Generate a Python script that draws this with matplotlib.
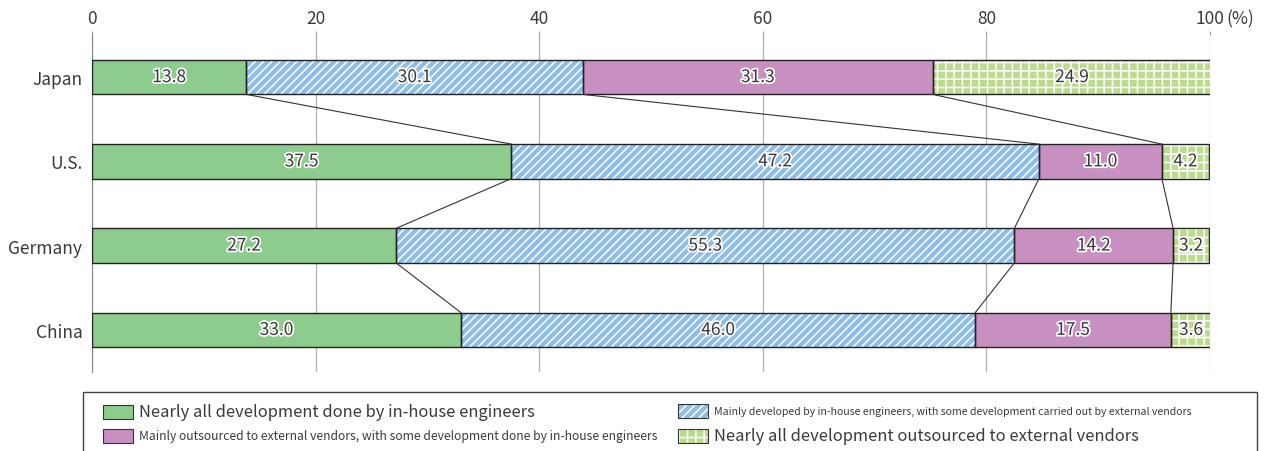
import matplotlib
matplotlib.use("Agg")
import matplotlib.pyplot as plt
import matplotlib.patheffects as pe
from matplotlib.patches import Rectangle
import numpy as np

plt.rcParams['font.family'] = ['Noto Sans CJK JP', 'DejaVu Sans']
plt.rcParams['hatch.linewidth'] = 1.1

countries = ["Japan", "U.S.", "Germany", "China"]
in_house_all = [13.8, 37.5, 27.2, 33.0]
mainly_in_house = [30.1, 47.2, 55.3, 46.0]
mainly_outsourced = [31.3, 11.0, 14.2, 17.5]
all_outsourced = [24.9, 4.2, 3.2, 3.6]
x_ticks = [0, 20, 40, 60, 80, 100]

series_labels = [
    "Nearly all development done by in-house engineers",
    "Mainly developed by in-house engineers, with some development carried out by external vendors",
    "Mainly outsourced to external vendors, with some development done by in-house engineers",
    "Nearly all development outsourced to external vendors",
]
colors = ["#8dcc8c", "#8ebde8", "#c890c1", "#bcdb8e"]
hatches = [None, "////", None, "++"]

W, H = 1266, 452
fig = plt.figure(figsize=(W / 100, H / 100), dpi=100)
ax = fig.add_axes([92 / W, 1 - 373 / H, (1210 - 92) / W, (373 - 36) / H])

series = [in_house_all, mainly_in_house, mainly_outsourced, all_outsourced]
y = np.arange(len(countries))
bh = 0.41
left = np.zeros(len(countries))
bounds = []
for vals, col, hat in zip(series, colors, hatches):
    vals = np.array(vals)
    ax.barh(y, vals, left=left, height=bh, color=col, hatch=hat,
            edgecolor="white", linewidth=0, zorder=2)
    ax.barh(y, vals, left=left, height=bh, color="none",
            edgecolor="#222222", linewidth=1.0, zorder=3)
    for yi, l, v in zip(y, left, vals):
        ax.text(l + v / 2, yi, f"{v:.1f}", ha="center", va="center",
                fontsize=12.5, color="#383838", zorder=5,
                path_effects=[pe.withStroke(linewidth=2.5, foreground="white")])
    left = left + vals
    bounds.append(left.copy())

# connector lines
for b in bounds[:3]:
    for i in range(len(countries) - 1):
        ax.plot([b[i], b[i + 1]], [y[i] + bh / 2, y[i + 1] - bh / 2],
                color="#333333", linewidth=0.8, zorder=4)

ax.set_xlim(0, 100)
ax.set_ylim(len(countries) - 0.5, -0.5)
ax.set_yticks(y)
ax.set_yticklabels(countries, fontsize=12.5, color="#3a3a3a")
ax.xaxis.tick_top()
ax.set_xticks(x_ticks)
ax.set_xticklabels([str(t) for t in x_ticks], fontsize=12.5, color="#3a3a3a")
ax.tick_params(axis="y", length=0, pad=7)
ax.tick_params(axis="x", length=3, color="#999999", pad=3)
ax.grid(axis="x", color="#b0b0b0", linewidth=0.9, zorder=0)
for s in ["top", "right", "bottom"]:
    ax.spines[s].set_visible(False)
ax.spines["left"].set_color("#888888")
ax.set_axisbelow(True)
fig.text(1226 / W, 1 - 19 / H, "(%)", fontsize=12.5, color="#3a3a3a",
         ha="left", va="center")

# legend box
fig.patches.append(Rectangle((83 / W, -0.05), (1257 - 83) / W, 0.05 + (452 - 393) / H,
                             transform=fig.transFigure, facecolor="white",
                             edgecolor="#444444", linewidth=1.0))
leg_pos = [(103, 413), (678, 412), (103, 437), (678, 437)]
leg_sizes = [11.9, 7.6, 8.7, 11.9]
for (px, py), col, hat, lab, fs in zip(leg_pos, colors, hatches, series_labels, leg_sizes):
    pw, ph = 30, 14
    fig.patches.append(Rectangle((px / W, 1 - (py + ph / 2) / H), pw / W, ph / H,
                                 transform=fig.transFigure, facecolor=col, hatch=hat,
                                 edgecolor="white", linewidth=0))
    fig.patches.append(Rectangle((px / W, 1 - (py + ph / 2) / H), pw / W, ph / H,
                                 transform=fig.transFigure, facecolor="none",
                                 edgecolor="#333333", linewidth=0.8))
    fig.text((px + pw + 6) / W, 1 - py / H, lab, fontsize=fs, color="#3a3a3a",
             ha="left", va="center")

fig.savefig("out.png", dpi=100)
